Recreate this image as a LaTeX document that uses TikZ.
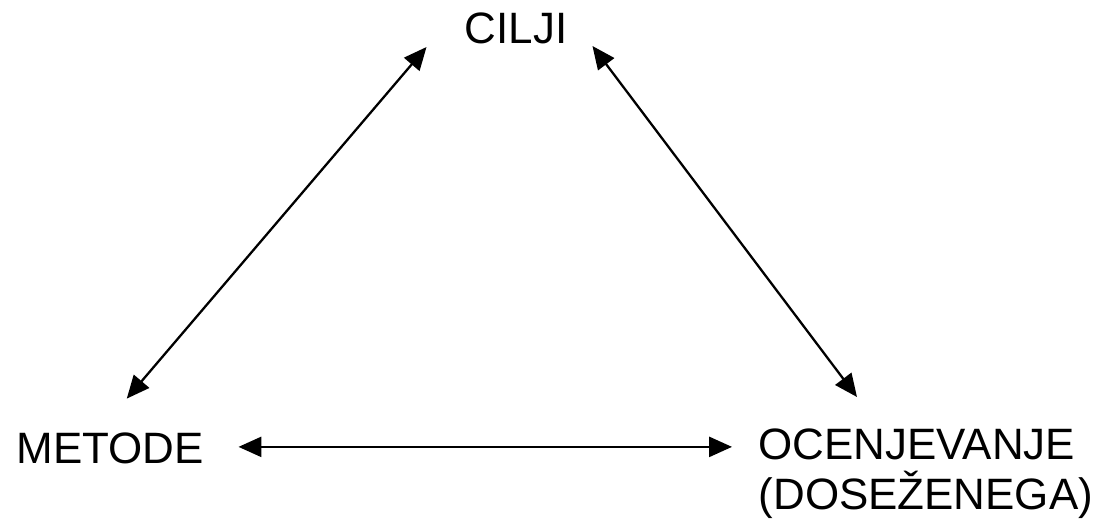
\documentclass[tikz,border=0pt]{standalone}
\usepackage{fontspec}
\setmainfont{Liberation Sans}
\usepackage{tikz}
\usetikzlibrary{arrows.meta, calc}

\tikzset{
  label/.style={inner sep=0pt, font=\fontsize{12.5}{14.2}\selectfont},
  biarrow/.style={{Triangle[length=6.5pt,width=5.7pt]}-{Triangle[length=6.5pt,width=5.7pt]}, line width=0.65pt, black}
}

\begin{document}
\begin{tikzpicture}
  \useasboundingbox (0,0) rectangle (11.07,5.27);

  % Three corners
  \node[label] (cilji) at (5.16,4.99) {CILJI};
  \node[label, anchor=base west] (metode) at (0.16,0.64) {METODE};
  \node[label, anchor=north west, align=left] (ocen) at (7.58,0.99) {OCENJEVANJE\\(DOSEŽENEGA)};

  % Links between them
  \draw[biarrow] ($(metode.north)+(0.165,0.33)$) -- ($(cilji.west)+(-0.375,-0.19)$);
  \draw[biarrow] ($(cilji.east)+(0.245,-0.18)$) -- ($(ocen.north west)+(0.99,0.31)$);
  \draw[biarrow] ($(metode.east)+(0.34,0.01)$) -- ($(metode.east -| ocen.west)+(-0.26,0.01)$);
\end{tikzpicture}
\end{document}
